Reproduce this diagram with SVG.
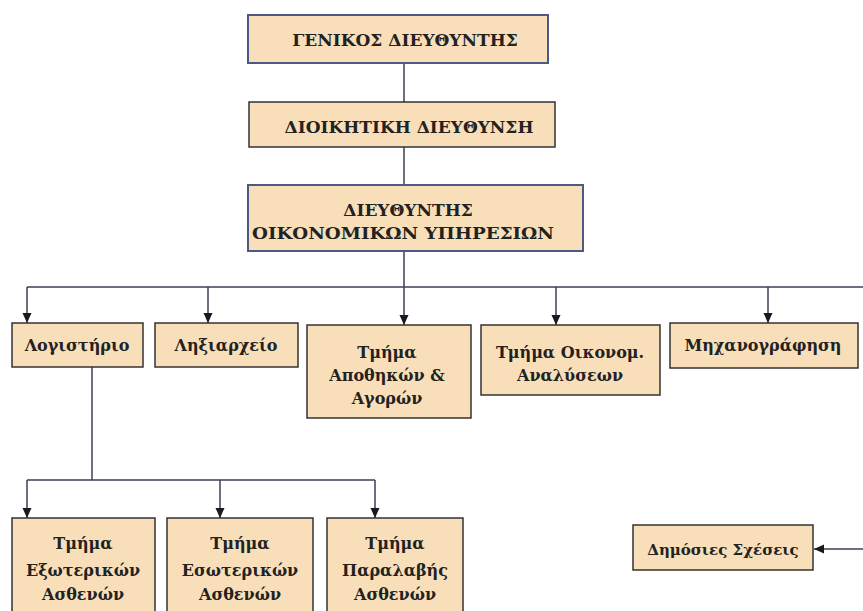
<svg xmlns="http://www.w3.org/2000/svg" width="863" height="611" viewBox="0 0 863 611">
<defs>
<marker id="arr" markerUnits="userSpaceOnUse" markerWidth="10" markerHeight="10" refX="10" refY="5" orient="auto">
<path d="M0,0.5 L10,5 L0,9.5 z" fill="#1a1a1a"/>
</marker>
</defs>
<style>
.box{fill:#f9dfb9;stroke:#333;stroke-width:1.5}
.top{stroke:#4d5a85;stroke-width:2}
.t{font-weight:bold;fill:#222;text-anchor:middle}
.cap{font-size:17px}
.lc{font-size:16px}
.ln{fill:none;stroke:#3a3f55;stroke-width:1.5}
</style>
<rect width="863" height="611" fill="#ffffff"/>
<g id="connectors">
<line class="ln" x1="404" y1="63" x2="404" y2="102"/>
<line class="ln" x1="404" y1="147" x2="404" y2="185"/>
<line class="ln" x1="404" y1="251" x2="404" y2="287"/>
<line class="ln" x1="27" y1="287" x2="863" y2="287"/>
<line class="ln" x1="27" y1="287" x2="27" y2="323" marker-end="url(#arr)"/>
<line class="ln" x1="208" y1="287" x2="208" y2="323" marker-end="url(#arr)"/>
<line class="ln" x1="404" y1="287" x2="404" y2="325" marker-end="url(#arr)"/>
<line class="ln" x1="556" y1="287" x2="556" y2="325" marker-end="url(#arr)"/>
<line class="ln" x1="768" y1="287" x2="768" y2="323" marker-end="url(#arr)"/>
<line class="ln" x1="92" y1="367" x2="92" y2="480"/>
<line class="ln" x1="27" y1="480" x2="375" y2="480"/>
<line class="ln" x1="27" y1="480" x2="27" y2="518" marker-end="url(#arr)"/>
<line class="ln" x1="220" y1="480" x2="220" y2="518" marker-end="url(#arr)"/>
<line class="ln" x1="375" y1="480" x2="375" y2="518" marker-end="url(#arr)"/>
<line class="ln" x1="863" y1="549" x2="814" y2="549" marker-end="url(#arr)"/>
</g>
<g font-family="'DejaVu Serif', serif">
<g id="genikos">
<rect class="box top" x="248" y="15" width="300" height="48"/>
<text class="t cap" x="405" y="46">ΓΕΝΙΚΟΣ ΔΙΕΥΘΥΝΤΗΣ</text>
</g>
<g id="dioikitiki">
<rect class="box" x="249" y="102" width="306" height="45"/>
<text class="t cap" x="409" y="133">ΔΙΟΙΚΗΤΙΚΗ ΔΙΕΥΘΥΝΣΗ</text>
</g>
<g id="oikonomikon">
<rect class="box top" x="248" y="185" width="335" height="66"/>
<text class="t cap" x="408" y="216">ΔΙΕΥΘΥΝΤΗΣ</text>
<text class="t cap" x="403" y="239" textLength="302" lengthAdjust="spacingAndGlyphs">ΟΙΚΟΝΟΜΙΚΩΝ ΥΠΗΡΕΣΙΩΝ</text>
</g>
<g id="logistirio">
<rect class="box" x="12" y="323" width="131" height="44"/>
<text class="t lc" x="77" y="351">Λογιστήριο</text>
</g>
<g id="lixiarxeio">
<rect class="box" x="155" y="323" width="143" height="44"/>
<text class="t lc" x="226" y="351">Ληξιαρχείο</text>
</g>
<g id="apothikon">
<rect class="box" x="307" y="325" width="164" height="93"/>
<text class="t lc" x="387" y="358">Τμήμα</text>
<text class="t lc" x="387" y="381">Αποθηκών &amp;</text>
<text class="t lc" x="387" y="404">Αγορών</text>
</g>
<g id="oikonom">
<rect class="box" x="481" y="325" width="179" height="70"/>
<text class="t lc" x="570" y="358">Τμήμα Οικονομ.</text>
<text class="t lc" x="570" y="381">Αναλύσεων</text>
</g>
<g id="mixanografisi">
<rect class="box" x="670" y="323" width="188" height="45"/>
<text class="t lc" x="763" y="351">Μηχανογράφηση</text>
</g>
<g id="exoterikon">
<rect class="box" x="12" y="518" width="143" height="100"/>
<text class="t lc" x="83" y="549">Τμήμα</text>
<text class="t lc" x="83" y="576">Εξωτερικών</text>
<text class="t lc" x="83" y="600">Ασθενών</text>
</g>
<g id="esoterikon">
<rect class="box" x="167" y="518" width="146" height="100"/>
<text class="t lc" x="240" y="549">Τμήμα</text>
<text class="t lc" x="240" y="576">Εσωτερικών</text>
<text class="t lc" x="240" y="600">Ασθενών</text>
</g>
<g id="paralavis">
<rect class="box" x="327" y="518" width="136" height="100"/>
<text class="t lc" x="395" y="549">Τμήμα</text>
<text class="t lc" x="395" y="576">Παραλαβής</text>
<text class="t lc" x="395" y="600">Ασθενών</text>
</g>
<g id="dimosies">
<rect class="box" x="633" y="525" width="180" height="45"/>
<text class="t" x="723" y="555" font-size="15">Δημόσιες Σχέσεις</text>
</g>
</g>
</svg>
